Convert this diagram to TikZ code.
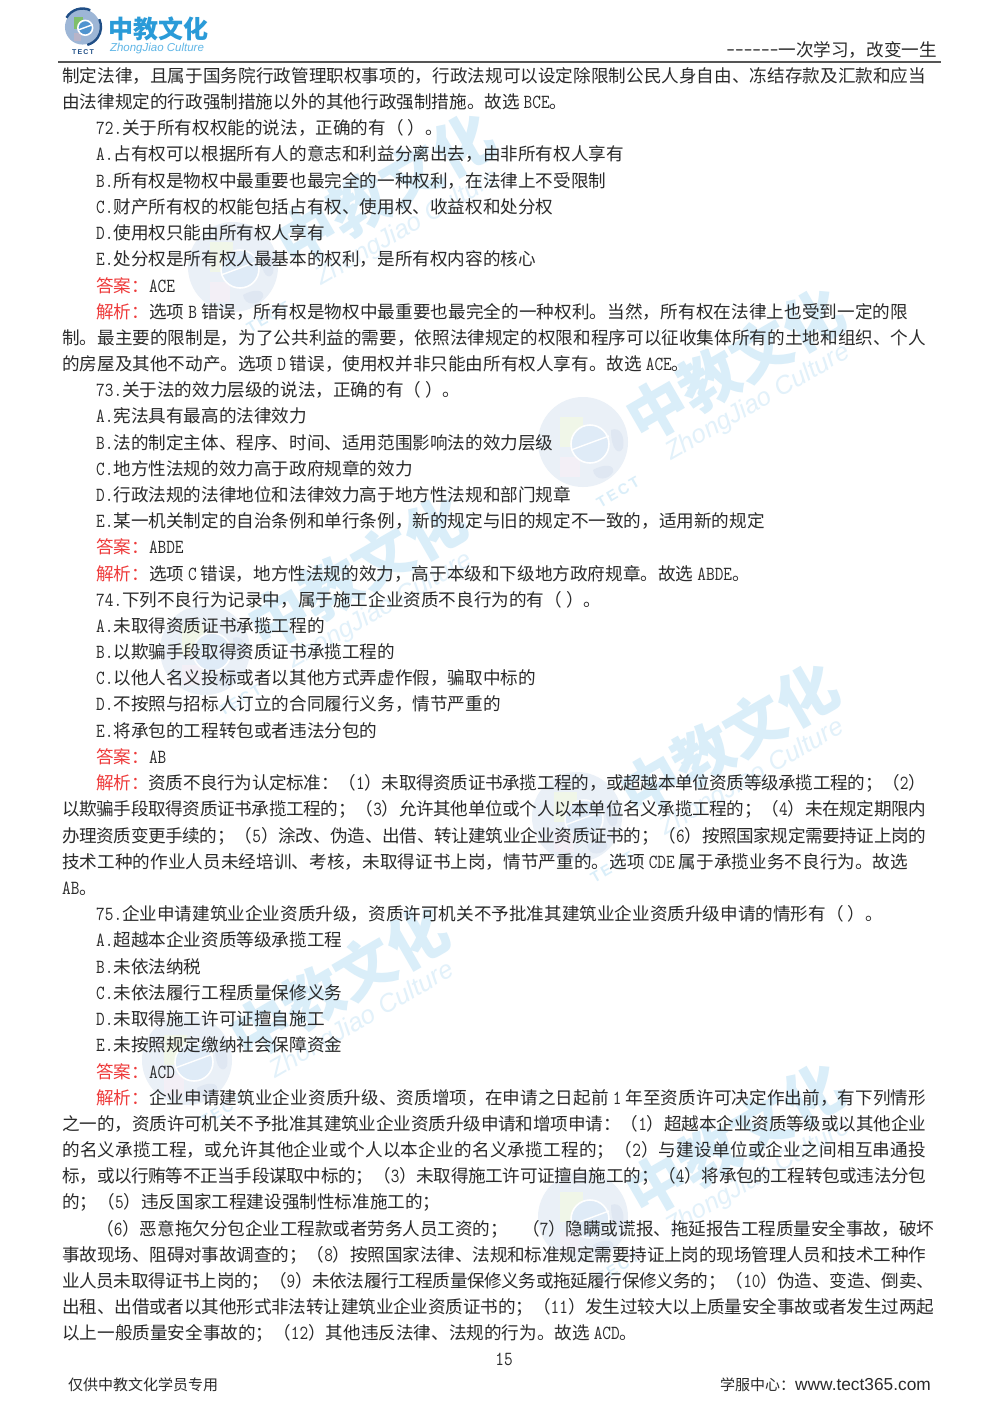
\documentclass[tikz,border=0pt]{standalone}
\usepackage{fontspec}
\setmainfont{Noto Sans CJK SC}
\newfontfamily\ensans{Liberation Sans}
\newfontfamily\latf[FakeStretch=0.84]{Latin Modern Mono}
\XeTeXlinebreaklocale "zh"
\XeTeXlinebreakskip=0pt plus 4pt minus 0.4pt
\definecolor{txt}{HTML}{2A2A2A}
\definecolor{redtxt}{HTML}{EE3A3A}
\definecolor{rulec}{HTML}{555555}
\definecolor{wmcn}{HTML}{DAEEF9}
\definecolor{wmen}{HTML}{E2F1FA}
\definecolor{logoblue}{HTML}{2A9BD8}
\definecolor{logosub}{HTML}{5FB6E6}
\definecolor{navy}{HTML}{1F4E86}
\definecolor{wgl}{HTML}{EAF0F7}
\definecolor{wgr}{HTML}{F0F6E8}
\definecolor{wli}{HTML}{F3EFF6}
\definecolor{wbl}{HTML}{DFEBF7}
\definecolor{wld}{HTML}{DFE7F2}
\definecolor{hgl}{HTML}{9DB6D6}
\definecolor{hgr}{HTML}{7FBF6A}
\definecolor{hli}{HTML}{B8B4C8}
\definecolor{hbl}{HTML}{4F94CF}
\newcommand{\lat}[1]{{\latf\fontsize{20}{20}\selectfont #1}}
\newcommand{\rd}[1]{\textcolor{redtxt}{#1}}
\newcommand{\jl}[2]{\parbox[b]{#1pt}{\tolerance=10000\hbadness=10000\parindent=0pt\parfillskip=0pt #2}}
\newcommand{\drawglobe}[4]{%
    \fill[fill=#1] (0,0) circle (45);
    \fill[fill=#2] (-23,-25) rectangle (0,5);
    \fill[fill=#3] (-23,15) rectangle (-3,35);
    \fill[fill=#4] (7,2) circle (19);
    \draw[white,line width=1.6pt] (7,2) circle (19);
    \draw[white,line width=1.4pt] (-12,8) -- (26,-6);
}
\tikzset{
  tl/.style={anchor=base west,inner sep=0pt,text=txt,font=\fontsize{17.6}{20}\selectfont},
  foot/.style={anchor=base west,inner sep=0pt,text=txt,font=\fontsize{15}{18}\selectfont},
  wmark/.pic={
    \drawglobe{wgl}{wgr}{wli}{wbl}
    \fill[wld] (28,-12) .. controls (38,-16) and (42,-4) .. (40,6) .. controls (36,14) and (28,8) .. (28,-12) -- cycle;
    \fill[wld] (10,28) .. controls (20,22) and (32,22) .. (30,30) .. controls (26,38) and (12,40) .. (10,28) -- cycle;
    \node[rotate=30,text=wmcn,inner sep=0pt,font=\bfseries\fontsize{60}{60}\selectfont] (cn) at (152,-77) {中教文化};
    \node[rotate=30,text=wmen,inner sep=0pt,font=\ensans\itshape\fontsize{25.5}{28}\selectfont] (en) at (175,-39) {ZhongJiao Culture};
    \node[rotate=30,text=wmcn,inner sep=0pt,font=\ensans\bfseries\fontsize{15}{18}\selectfont] (tc) at (35,50) {T\,E\,C\,T};
  }
}
\begin{document}
\begin{tikzpicture}[x=1pt,y=-1pt]
\useasboundingbox (0,0) rectangle (1000,1414);
\fill[white] (0,0) rectangle (1000,1414);
% watermarks
\pic (wa) at (233,267) {wmark};
\pic (wb) at (583,442) {wmark};
\pic (wc) at (205,650) {wmark};
\pic (wd) at (577,817) {wmark};
\pic (we) at (187,1060) {wmark};
\pic (wf) at (583,1217) {wmark};
% header logo
\begin{scope}[shift={(82.5,27)},scale=0.39]
\drawglobe{hgl}{hgr}{hli}{hbl}
\end{scope}
\draw[navy,line width=2.4pt] (82.5,27) ++(-150:18.5) arc (-150:-65:18.5);
\draw[navy,line width=2.4pt] (82.5,27) ++(-25:18.5) arc (-25:75:18.5);
\node[inner sep=0pt,text=logoblue,font=\bfseries\fontsize{25}{28}\selectfont] (logocn) at (158,29) {中教文化};
\node[inner sep=0pt,text=logosub,font=\ensans\itshape\fontsize{11.5}{14}\selectfont] (logoen) at (157,49) {ZhongJiao Culture};
\node[inner sep=0pt,text=navy,font=\ensans\bfseries\fontsize{7}{9}\selectfont] (logotc) at (83,52) {T\,E\,C\,T};
\node[tl,anchor=base east] (hright) at (937,56) {\lat{------}一次学习，改变一生};
\coordinate (ruleL) at (58,62);
\coordinate (ruleR) at (941,62);
\draw[rulec,line width=1.2pt] (ruleL) -- (ruleR);
% body
\node[tl] (l1) at (62,82) {\jl{864}{制定法律，且属于国务院行政管理职权事项的，行政法规可以设定除限制公民人身自由、冻结存款及汇款和应当}};
\node[tl] (l2) at (62,108) {由法律规定的行政强制措施以外的其他行政强制措施。故选 \lat{BCE}。};
\node[tl] (l3) at (96,134) {\lat{72.}关于所有权权能的说法，正确的有（ ）。};
\node[tl] (l4) at (96,160) {\lat{A.}占有权可以根据所有人的意志和利益分离出去，由非所有权人享有};
\node[tl] (l5) at (96,187) {\lat{B.}所有权是物权中最重要也最完全的一种权利，在法律上不受限制};
\node[tl] (l6) at (96,213) {\lat{C.}财产所有权的权能包括占有权、使用权、收益权和处分权};
\node[tl] (l7) at (96,239) {\lat{D.}使用权只能由所有权人享有};
\node[tl] (l8) at (96,265) {\lat{E.}处分权是所有权人最基本的权利，是所有权内容的核心};
\node[tl] (l9) at (96,292) {\rd{答案：}\lat{ACE}};
\node[tl] (l10) at (96,318) {\jl{812}{\rd{解析：}选项 \lat{B} 错误，所有权是物权中最重要也最完全的一种权利。当然，所有权在法律上也受到一定的限}};
\node[tl] (l11) at (62,344) {\jl{864}{制。最主要的限制是，为了公共利益的需要，依照法律规定的权限和程序可以征收集体所有的土地和组织、个人}};
\node[tl] (l12) at (62,370) {的房屋及其他不动产。选项 \lat{D} 错误，使用权并非只能由所有权人享有。故选 \lat{ACE}。};
\node[tl] (l13) at (96,396) {\lat{73.}关于法的效力层级的说法，正确的有（ ）。};
\node[tl] (l14) at (96,422) {\lat{A.}宪法具有最高的法律效力};
\node[tl] (l15) at (96,449) {\lat{B.}法的制定主体、程序、时间、适用范围影响法的效力层级};
\node[tl] (l16) at (96,475) {\lat{C.}地方性法规的效力高于政府规章的效力};
\node[tl] (l17) at (96,501) {\lat{D.}行政法规的法律地位和法律效力高于地方性法规和部门规章};
\node[tl] (l18) at (96,527) {\lat{E.}某一机关制定的自治条例和单行条例，新的规定与旧的规定不一致的，适用新的规定};
\node[tl] (l19) at (96,553) {\rd{答案：}\lat{ABDE}};
\node[tl] (l20) at (96,580) {\rd{解析：}选项 \lat{C} 错误，地方性法规的效力，高于本级和下级地方政府规章。故选 \lat{ABDE}。};
\node[tl] (l21) at (96,606) {\lat{74.}下列不良行为记录中，属于施工企业资质不良行为的有（ ）。};
\node[tl] (l22) at (96,632) {\lat{A.}未取得资质证书承揽工程的};
\node[tl] (l23) at (96,658) {\lat{B.}以欺骗手段取得资质证书承揽工程的};
\node[tl] (l24) at (96,684) {\lat{C.}以他人名义投标或者以其他方式弄虚作假，骗取中标的};
\node[tl] (l25) at (96,710) {\lat{D.}不按照与招标人订立的合同履行义务，情节严重的};
\node[tl] (l26) at (96,737) {\lat{E.}将承包的工程转包或者违法分包的};
\node[tl] (l27) at (96,763) {\rd{答案：}\lat{AB}};
\node[tl] (l28) at (96,789) {\jl{830}{\rd{解析：}资质不良行为认定标准：（\lat{1}）未取得资质证书承揽工程的，或超越本单位资质等级承揽工程的；（\lat{2}）}};
\node[tl] (l29) at (62,815) {\jl{864}{以欺骗手段取得资质证书承揽工程的；（\lat{3}）允许其他单位或个人以本单位名义承揽工程的；（\lat{4}）未在规定期限内}};
\node[tl] (l30) at (62,842) {\jl{864}{办理资质变更手续的；（\lat{5}）涂改、伪造、出借、转让建筑业企业资质证书的；（\lat{6}）按照国家规定需要持证上岗的}};
\node[tl] (l31) at (62,868) {\jl{846}{技术工种的作业人员未经培训、考核，未取得证书上岗，情节严重的。选项 \lat{CDE} 属于承揽业务不良行为。故选}};
\node[tl] (l32) at (62,894) {\lat{AB}。};
\node[tl] (l33) at (96,920) {\lat{75.}企业申请建筑业企业资质升级，资质许可机关不予批准其建筑业企业资质升级申请的情形有（ ）。};
\node[tl] (l34) at (96,946) {\lat{A.}超越本企业资质等级承揽工程};
\node[tl] (l35) at (96,973) {\lat{B.}未依法纳税};
\node[tl] (l36) at (96,999) {\lat{C.}未依法履行工程质量保修义务};
\node[tl] (l37) at (96,1025) {\lat{D.}未取得施工许可证擅自施工};
\node[tl] (l38) at (96,1051) {\lat{E.}未按照规定缴纳社会保障资金};
\node[tl] (l39) at (96,1078) {\rd{答案：}\lat{ACD}};
\node[tl] (l40) at (96,1104) {\jl{830}{\rd{解析：}企业申请建筑业企业资质升级、资质增项，在申请之日起前 \lat{1} 年至资质许可决定作出前，有下列情形}};
\node[tl] (l41) at (62,1130) {\jl{864}{之一的，资质许可机关不予批准其建筑业企业资质升级申请和增项申请：（\lat{1}）超越本企业资质等级或以其他企业}};
\node[tl] (l42) at (62,1156) {\jl{864}{的名义承揽工程，或允许其他企业或个人以本企业的名义承揽工程的；（\lat{2}）与建设单位或企业之间相互串通投}};
\node[tl] (l43) at (62,1182) {\jl{864}{标，或以行贿等不正当手段谋取中标的；（\lat{3}）未取得施工许可证擅自施工的；（\lat{4}）将承包的工程转包或违法分包}};
\node[tl] (l44) at (62,1208) {的；（\lat{5}）违反国家工程建设强制性标准施工的；};
\node[tl] (l45) at (96,1235) {\jl{838}{（\lat{6}）恶意拖欠分包企业工程款或者劳务人员工资的；\hspace{14pt}（\lat{7}）隐瞒或谎报、拖延报告工程质量安全事故，破坏}};
\node[tl] (l46) at (62,1261) {\jl{864}{事故现场、阻碍对事故调查的；（\lat{8}）按照国家法律、法规和标准规定需要持证上岗的现场管理人员和技术工种作}};
\node[tl] (l47) at (62,1287) {\jl{872}{业人员未取得证书上岗的；（\lat{9}）未依法履行工程质量保修义务或拖延履行保修义务的；（\lat{10}）伪造、变造、倒卖、}};
\node[tl] (l48) at (62,1313) {\jl{872}{出租、出借或者以其他形式非法转让建筑业企业资质证书的；（\lat{11}）发生过较大以上质量安全事故或者发生过两起}};
\node[tl] (l49) at (62,1339) {以上一般质量安全事故的；（\lat{12}）其他违反法律、法规的行为。故选 \lat{ACD}。};
% footer
\node[foot,anchor=base] (pageno) at (504,1365) {\lat{15}};
\node[foot] (footl) at (68,1390) {仅供中教文化学员专用};
\node[foot,anchor=base east] (footr) at (931,1390) {学服中心：{\ensans\fontsize{17.3}{20}\selectfont www.tect365.com}};
\end{tikzpicture}
\end{document}
